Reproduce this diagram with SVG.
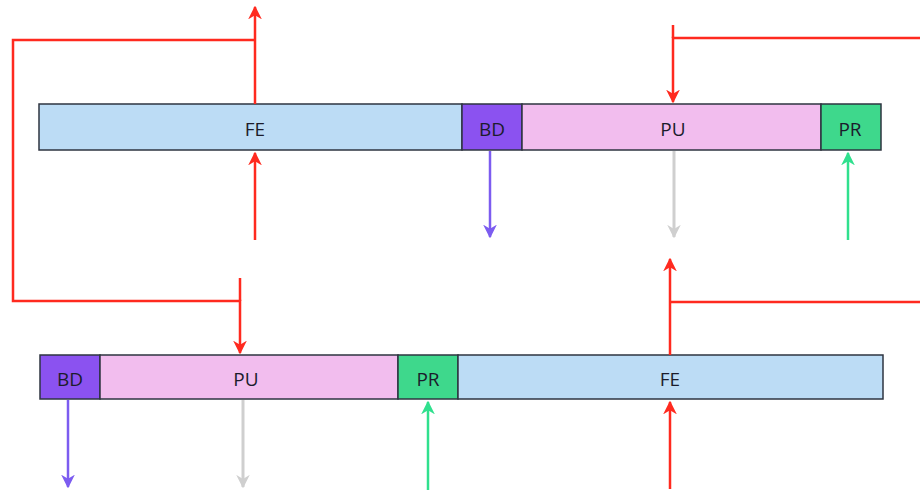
<svg xmlns="http://www.w3.org/2000/svg" width="920" height="499" viewBox="0 0 920 499">
<defs>
<style>
.blk{stroke:#2e3440;stroke-width:1.5}
.fe{fill:#bcdcf5}.bd{fill:#8b52f0}.pu{fill:#f2bdee}.pr{fill:#3ed88c}
.lbl{font-family:"Open Sans","Liberation Sans",sans-serif;font-size:19px;fill:#1c1c2c;text-anchor:middle;dominant-baseline:central}
.red{stroke:#ff2a1f;stroke-width:2.5;fill:none}
.pur{stroke:#7c5cf0;stroke-width:2.5;fill:none}
.gry{stroke:#cfcfcf;stroke-width:3;fill:none}
.grn{stroke:#30e08e;stroke-width:2.5;fill:none}
</style>
<marker id="ar" viewBox="0 0 10 10" refX="9" refY="5" markerWidth="5.5" markerHeight="5.5" orient="auto" markerUnits="strokeWidth"><path d="M0,0 L10,5 L0,10 L3,5 z" fill="#ff2a1f"/></marker>
<marker id="ap" viewBox="0 0 10 10" refX="9" refY="5" markerWidth="5.5" markerHeight="5.5" orient="auto" markerUnits="strokeWidth"><path d="M0,0 L10,5 L0,10 L3,5 z" fill="#7c5cf0"/></marker>
<marker id="ag" viewBox="0 0 10 10" refX="9" refY="5" markerWidth="4.5" markerHeight="4.5" orient="auto" markerUnits="strokeWidth"><path d="M0,0 L10,5 L0,10 L3,5 z" fill="#cfcfcf"/></marker>
<marker id="an" viewBox="0 0 10 10" refX="9" refY="5" markerWidth="5.5" markerHeight="5.5" orient="auto" markerUnits="strokeWidth"><path d="M0,0 L10,5 L0,10 L3,5 z" fill="#30e08e"/></marker>
</defs>
<rect width="920" height="499" fill="#ffffff"/>

<g id="top-FE"><rect class="blk fe" x="39" y="104" width="423" height="46"/><text class="lbl" x="255" y="129">FE</text></g>
<g id="top-BD"><rect class="blk bd" x="462" y="104" width="60" height="46"/><text class="lbl" x="492" y="129">BD</text></g>
<g id="top-PU"><rect class="blk pu" x="522" y="104" width="299" height="46"/><text class="lbl" x="673" y="129">PU</text></g>
<g id="top-PR"><rect class="blk pr" x="821" y="104" width="60" height="46"/><text class="lbl" x="850" y="129">PR</text></g>

<g id="bot-BD"><rect class="blk bd" x="40" y="355" width="60" height="44"/><text class="lbl" x="70" y="379">BD</text></g>
<g id="bot-PU"><rect class="blk pu" x="100" y="355" width="298" height="44"/><text class="lbl" x="246" y="379">PU</text></g>
<g id="bot-PR"><rect class="blk pr" x="398" y="355" width="60" height="44"/><text class="lbl" x="428" y="379">PR</text></g>
<g id="bot-FE"><rect class="blk fe" x="458" y="355" width="425" height="44"/><text class="lbl" x="670" y="379">FE</text></g>

<g id="connectors">
<path class="red" d="M255,240 V153" marker-end="url(#ar)"/>
<path class="red" d="M255,104 V7" marker-end="url(#ar)"/>
<path class="red" d="M255,40 H13 V301 H240 V353" marker-end="url(#ar)"/>
<path class="red" d="M240,278 V301"/>
<path class="red" d="M920,38 H673 V102" marker-end="url(#ar)"/>
<path class="red" d="M673,25 V38"/>
<path class="pur" d="M490,151 V237" marker-end="url(#ap)"/>
<path class="gry" d="M674,151 V237" marker-end="url(#ag)"/>
<path class="grn" d="M848,240 V153" marker-end="url(#an)"/>
<path class="red" d="M670,355 V259" marker-end="url(#ar)"/>
<path class="red" d="M670,302 H920"/>
<path class="red" d="M670,489 V402" marker-end="url(#ar)"/>
<path class="pur" d="M68,400 V487" marker-end="url(#ap)"/>
<path class="gry" d="M243,400 V487" marker-end="url(#ag)"/>
<path class="grn" d="M428,490 V402" marker-end="url(#an)"/>
</g>
</svg>
